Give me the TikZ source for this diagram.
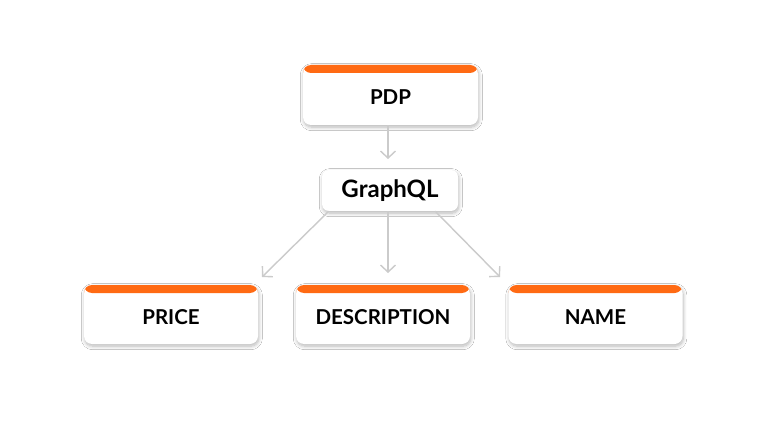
\documentclass[tikz,border=0pt]{standalone}
\usepackage{fontspec}
\setmainfont{Lato}[BoldFont={Lato Bold}]
\usepackage{tikz}
\usetikzlibrary{arrows.meta,positioning,calc,shadows.blur}

\begin{document}
\begin{tikzpicture}[
  x=1pt, y=-1pt,
  font=\bfseries\fontsize{20.5}{24}\selectfont,
  softshadow/.style={blur shadow={shadow blur steps=8, shadow blur radius=3.5pt, shadow xshift=0.8pt, shadow yshift=-2.2pt, shadow opacity=28}},
  card/.style={draw=none, fill=white, rounded corners=8pt, minimum width=175pt, minimum height=60pt,
    inner sep=0pt, text height=19pt, text depth=0pt, softshadow,
    path picture={\fill[cBar] (path picture bounding box.north west) rectangle ([yshift=-8pt]path picture bounding box.north east);}},
  hub/.style={draw=none, fill=white, rounded corners=7pt, minimum width=136pt, minimum height=41pt,
    inner sep=0pt, font=\bfseries\fontsize{24}{28}\selectfont, softshadow},
  arr/.style={-{Straight Barb[length=7pt,width=15pt,line width=1.4pt]}, line width=1.4pt, cLine},
]
\definecolor{cBar}{HTML}{FF6A13}
\definecolor{cLine}{HTML}{CBCBCB}
\useasboundingbox[fill=white] (0,0) rectangle (768,422);

\node[card] (pdp) at (390.5,95) {PDP};
\node[hub] (gql) at (390,190.5) {GraphQL};
\node[card, minimum width=174pt, minimum height=59pt] (price) at (171,314.5) {PRICE};
\node[card, minimum width=174pt, minimum height=59pt] (desc) at (383,314.5) {DESCRIPTION};
\node[card, minimum width=174pt, minimum height=59pt] (name) at (595.5,314.5) {NAME};

\coordinate (inG) at (388,159);
\coordinate (inP) at (262,277);
\coordinate (inD) at (388,273);
\coordinate (inN) at (500,277);

\draw[arr] (pdp.south -| inG) -- (inG);
\draw[arr] ($(gql.south west)+(7,0)$) -- (inP);
\draw[arr] (gql.south -| inD) -- (inD);
\draw[arr] ($(gql.south east)+(-23,0)$) -- (inN);
\end{tikzpicture}
\end{document}
